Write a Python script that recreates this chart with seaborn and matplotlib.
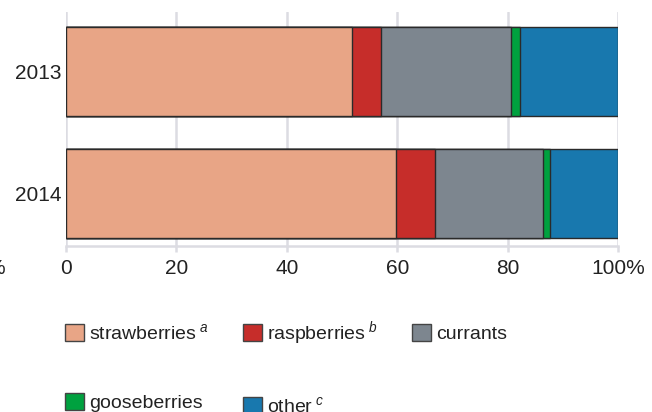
import numpy as np
import pandas as pd
import matplotlib
matplotlib.use("Agg")
import matplotlib.pyplot as plt
import seaborn as sns
from matplotlib.patches import Patch

years = ["2013", "2014"]
categories = ["strawberries", "raspberries", "currants", "gooseberries", "other"]
strawberries = [51.9, 59.7]
raspberries = [5.2, 7.1]
currants = [23.6, 19.6]
gooseberries = [1.6, 1.2]
other = [17.7, 12.4]
legend_labels = [r"strawberries$^{\ a}$", r"raspberries$^{\ b}$", "currants",
                 "gooseberries", r"other$^{\ c}$"]
colors = ["#E8A586", "#C62D2A", "#7D868F", "#00A13F", "#1878AE"]
xticks = [0, 20, 40, 60, 80, 100]
xticklabels = ["0", "20", "40", "60", "80", "100%"]

sns.set_theme(style="white")
plt.rcParams["font.family"] = ["Liberation Sans", "DejaVu Sans"]
plt.rcParams["mathtext.fontset"] = "custom"
plt.rcParams["mathtext.rm"] = "Liberation Sans"
plt.rcParams["mathtext.it"] = "Liberation Sans:italic"

fig = plt.figure(figsize=(6.52, 4.12), dpi=100)
ax = fig.add_axes([66 / 652, 1 - 246 / 412, 552 / 652, 234 / 412])

df = pd.DataFrame({"year": years, "strawberries": strawberries, "raspberries": raspberries,
                   "currants": currants, "gooseberries": gooseberries, "other": other})
cum = df[categories].cumsum(axis=1)
cum["year"] = df["year"]

grid_c = "#dcdce2"
for cat, col in reversed(list(zip(categories, colors))):
    sns.barplot(data=cum, x=cat, y="year", orient="h", color=col, saturation=1,
                width=0.73, edgecolor="#2a2a2a", linewidth=1, errorbar=None, ax=ax)

ax.set_xlim(0, 100)
ax.set_ylim(1.43, -0.488)
ax.set_xticks(xticks)
ax.set_xticklabels(xticklabels)
ax.set_xlabel("")
ax.set_ylabel("")
ax.grid(axis="x", color=grid_c, linewidth=1.8)
ax.grid(axis="y", visible=False)
ax.set_axisbelow(True)
for s in ["top", "right", "left"]:
    ax.spines[s].set_visible(False)
ax.spines["bottom"].set_color(grid_c)
ax.spines["bottom"].set_linewidth(1.8)
ax.tick_params(axis="x", length=4, width=1.8, color=grid_c, labelsize=15,
               labelcolor="#222222", pad=5, bottom=True)
ax.tick_params(axis="y", length=0, labelsize=15, labelcolor="#222222", pad=3)

fig.text(5 / 652, 1 - 268 / 412, "%", ha="right", va="center", fontsize=15, color="#222222")

handles = [Patch(facecolor=c, edgecolor="#444444", linewidth=1) for c in colors]
order = [0, 3, 1, 4, 2]
fig.legend([handles[i] for i in order], [legend_labels[i] for i in order],
           loc="upper left", bbox_to_anchor=(65 / 652, 1 - 319 / 412), ncol=3,
           frameon=False, fontsize=14, handlelength=1.0, handleheight=1.0,
           handletextpad=0.25, columnspacing=1.75, labelspacing=2.55,
           borderaxespad=0, borderpad=0, labelcolor="#222222")

fig.savefig("out.png", dpi=100)
